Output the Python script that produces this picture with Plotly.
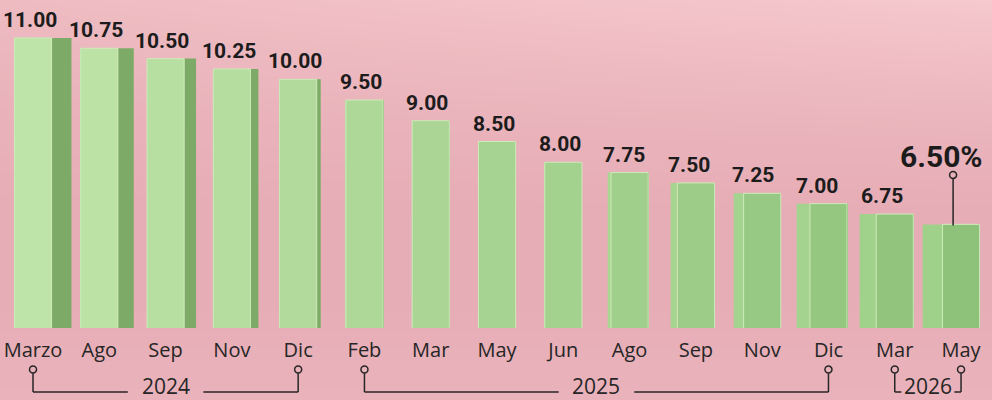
import numpy as np
import plotly.graph_objects as go

# ---- data ----
months = ["Marzo", "Ago", "Sep", "Nov", "Dic", "Feb", "Mar", "May",
          "Jun", "Ago", "Sep", "Nov", "Dic", "Mar", "May"]
years = ["2024", "2024", "2024", "2024", "2024",
         "2025", "2025", "2025", "2025", "2025", "2025", "2025", "2025",
         "2026", "2026"]
rates = [11.00, 10.75, 10.50, 10.25, 10.00, 9.50, 9.00, 8.50,
         8.00, 7.75, 7.50, 7.25, 7.00, 6.75, 6.50]
rate_labels = ["11.00", "10.75", "10.50", "10.25", "10.00", "9.50", "9.00", "8.50",
               "8.00", "7.75", "7.50", "7.25", "7.00", "6.75", "6.50%"]

n = len(rates)
xs = list(range(n))

# ---- styling helpers ----
FRONT_W = 0.56
Y_MIN, Y_MAX = 4.0, 11.914
X_MIN, X_MAX = -0.498, 14.467
Y_DOM0 = 0.18
LABEL_FONT = "Liberation Sans Narrow, Roboto, sans-serif"
TEXT_FONT = "Open Sans, sans-serif"
INK = "#262626"

def lerp_color(c1, c2, t):
    a = [int(c1[i:i + 2], 16) for i in (1, 3, 5)]
    b = [int(c2[i:i + 2], 16) for i in (1, 3, 5)]
    return "#" + "".join(f"{int(round(a[k] + (b[k] - a[k]) * t)):02x}" for k in range(3))

front_colors = [lerp_color("#bfe4a9", "#8ec27a", i / (n - 1)) for i in xs]
left_colors = [lerp_color("#b4dc9f", "#a0d18b", i / (n - 1)) for i in xs]
right_w = [max(0.0, 0.3 * (1 - i / 5)) for i in xs]
left_w = [max(0.0, 0.3 * (i - 8) / 6) for i in xs]

fig = go.Figure()

# background gradient (heatmap on a full-size helper subplot)
gx = np.linspace(0, 1, 12)
gy = np.linspace(0, 1, 12)
Z = []
for yy in gy:
    row = []
    for xx in gx:
        v = 0.15 + 0.85 * max(0.0, (yy - 0.45) / 0.55) ** 1.3 * (0.55 + 0.45 * xx)
        if yy < 0.25:
            v += 0.22 * (0.25 - yy) / 0.25
        row.append(v)
    Z.append(row)
fig.add_trace(go.Heatmap(
    x=gx, y=gy, z=Z, zsmooth="best", showscale=False, hoverinfo="skip",
    zmin=0, zmax=1,
    colorscale=[[0, "#e4a8b2"], [0.5, "#ecb7be"], [1, "#f5c9cd"]],
    xaxis="x", yaxis="y",
))

# right side faces (darker)
fig.add_trace(go.Bar(
    x=xs, y=rates, width=right_w, offset=[FRONT_W / 2] * n,
    marker=dict(color="#7dab67", line=dict(width=0)),
    xaxis="x2", yaxis="y2", hoverinfo="skip",
))
# left side faces (lighter)
fig.add_trace(go.Bar(
    x=xs, y=rates, width=left_w, offset=[-FRONT_W / 2 - w for w in left_w],
    marker=dict(color=left_colors, line=dict(width=0)),
    xaxis="x2", yaxis="y2", hoverinfo="skip",
))
# front faces
fig.add_trace(go.Bar(
    x=xs, y=rates, width=FRONT_W,
    marker=dict(color=front_colors, line=dict(width=1, color="#cdebb9")),
    xaxis="x2", yaxis="y2", hoverinfo="skip",
))

annotations = []
shapes = []

# value labels
for i, (v, lab) in enumerate(zip(rates, rate_labels)):
    if i == n - 1:
        continue
    annotations.append(dict(
        x=i - 0.05 - left_w[i] * 0.6, y=v, xref="x2", yref="y2", text=f"<b>{lab}</b>",
        showarrow=False, yanchor="bottom", yshift=4,
        font=dict(family=LABEL_FONT, size=21, color="#1c1c1c"),
    ))

# highlighted last value with connector
last = n - 1
cx = last - 0.12
annotations.append(dict(
    x=last - 0.29, y=rates[last], xref="x2", yref="y2", text=f"<b>{rate_labels[last]}</b>",
    showarrow=False, yanchor="middle", yshift=68,
    font=dict(family=LABEL_FONT, size=30, color="#1c1c1c"),
))
shapes.append(dict(type="line", xref="x2", yref="y2", x0=cx, x1=cx,
                   ysizemode="pixel", yanchor=rates[last], y0=-1, y1=46,
                   line=dict(color=INK, width=1.5)))
shapes.append(dict(type="circle", xref="x2", yref="y2",
                   xsizemode="pixel", xanchor=cx, x0=-3.5, x1=3.5,
                   ysizemode="pixel", yanchor=rates[last], y0=46, y1=53,
                   line=dict(color=INK, width=1.5), fillcolor="rgba(0,0,0,0)"))

# year brackets
Y_LINE = 0.02
Y_CIRC = 0.076
groups = []
for i, yv in enumerate(years):
    if groups and groups[-1][0] == yv:
        groups[-1][2] = i
    else:
        groups.append([yv, i, i])
for yv, a, b in groups:
    mid = (a + b) / 2
    gap = min(0.57, (b - a) / 2 - 0.1)
    for xv in (a, b):
        shapes.append(dict(type="line", xref="x2", yref="paper", x0=xv, x1=xv,
                           y0=Y_LINE, y1=Y_CIRC - 0.009,
                           line=dict(color=INK, width=1.5)))
        shapes.append(dict(type="circle", xref="x2", yref="paper",
                           xsizemode="pixel", xanchor=xv, x0=-3.5, x1=3.5,
                           ysizemode="pixel", yanchor=Y_CIRC, y0=-3.5, y1=3.5,
                           line=dict(color=INK, width=1.5), fillcolor="rgba(0,0,0,0)"))
    shapes.append(dict(type="line", xref="x2", yref="paper", x0=a, x1=mid - gap,
                       y0=Y_LINE, y1=Y_LINE, line=dict(color=INK, width=1.5)))
    shapes.append(dict(type="line", xref="x2", yref="paper", x0=mid + gap, x1=b,
                       y0=Y_LINE, y1=Y_LINE, line=dict(color=INK, width=1.5)))
    annotations.append(dict(
        x=mid, y=0.035, xref="x2", yref="paper", text=yv, showarrow=False,
        yanchor="middle", borderpad=0,
        font=dict(family=TEXT_FONT, size=21, color=INK),
    ))

fig.update_layout(
    width=992, height=400,
    margin=dict(l=0, r=0, t=0, b=0),
    paper_bgcolor="#ebb3bb", plot_bgcolor="rgba(0,0,0,0)",
    showlegend=False, barmode="overlay",
    xaxis=dict(domain=[0, 1], range=[0, 1], visible=False, fixedrange=True),
    yaxis=dict(domain=[0, 1], range=[0, 1], visible=False, fixedrange=True),
    xaxis2=dict(domain=[0, 1], range=[X_MIN, X_MAX], anchor="y2",
                tickmode="array", tickvals=xs, ticktext=months,
                showgrid=False, zeroline=False, showline=False, ticks="",
                ticklabelstandoff=8,
                tickfont=dict(family=TEXT_FONT, size=20, color=INK)),
    yaxis2=dict(domain=[Y_DOM0, 1], range=[Y_MIN, Y_MAX], anchor="x2",
                visible=False, showgrid=False, zeroline=False),
    annotations=annotations,
    shapes=shapes,
)

fig.write_html(
    "out.html",
    config={"displayModeBar": False},
    post_script="document.body.style.margin='0';document.body.style.overflow='hidden';",
)
